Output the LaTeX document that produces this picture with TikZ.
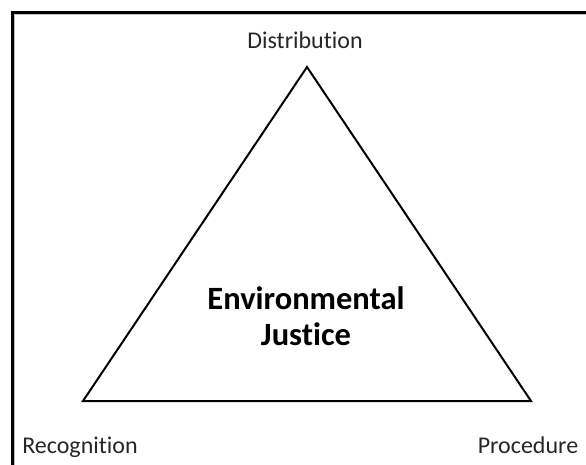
\documentclass[tikz,border=0pt]{standalone}
\usepackage{fontspec}
\setmainfont{Carlito}[Ligatures=NoCommon]
\usepackage{tikz}

\begin{document}
\begin{tikzpicture}[x=1pt, y=-1pt,
    vlabel/.style={font=\fontsize{24}{28}\selectfont, text=black!85, anchor=base, inner sep=0pt},
    centre/.style={font=\bfseries\fontsize{32.5}{36}\selectfont, align=center, inner sep=0pt},
    side/.style={draw, line width=2pt, line join=miter},
    frameline/.style={draw, line width=3pt}
]
    \useasboundingbox (0,0) rectangle (586,464);
    % frame (only top and left edges fall inside the page)
    \coordinate (fbl) at (12.5,470);
    \coordinate (ftl) at (12.5,12.5);
    \coordinate (ftr) at (590,12.5);
    \draw[gray!50, line width=1pt] (14.5,470) -- (14.5,14.5) -- (590,14.5);
    \draw[frameline] (fbl) -- (ftl) -- (ftr);

    % triangle corners
    \coordinate (top) at (307,67);
    \coordinate (left) at (83,401);
    \coordinate (right) at (531,401);
    \draw[side] (top) -- (left) -- (right) -- cycle;

    \node[vlabel] (dist) at (305,48) {Distribution};
    \node[vlabel] (recog) at (80,453) {Recognition};
    \node[vlabel] (proc) at (528,453) {Procedure};
    \node[centre] (ej) at (306,316) {Environmental\\Justice};
\end{tikzpicture}
\end{document}
